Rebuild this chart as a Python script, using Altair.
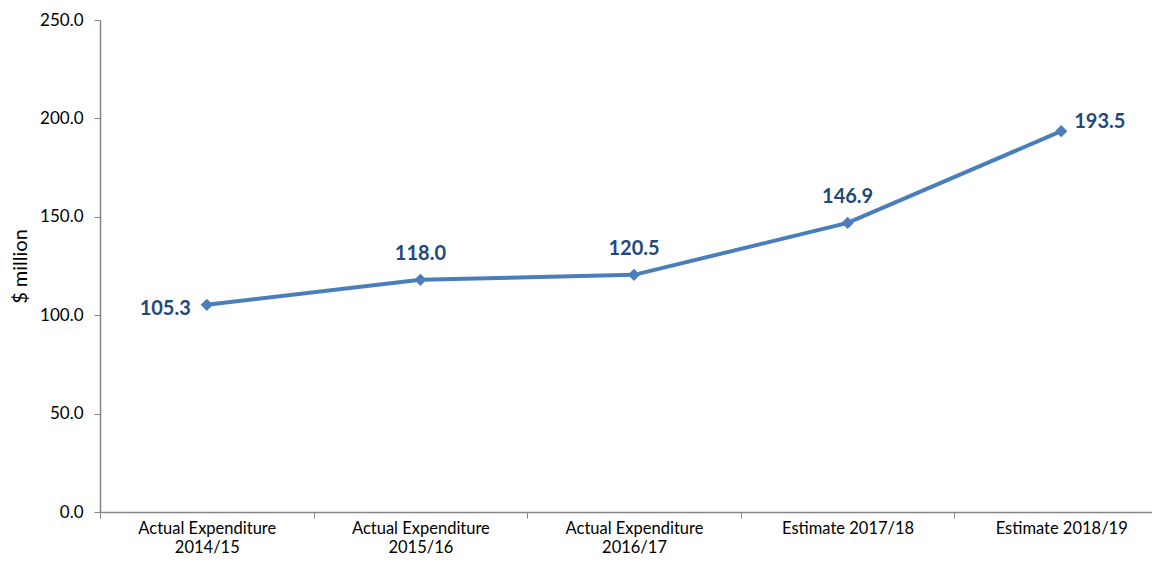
import json
import altair as alt
import pandas as pd

categories = [
    "Actual Expenditure 2014/15",
    "Actual Expenditure 2015/16",
    "Actual Expenditure 2016/17",
    "Estimate 2017/18",
    "Estimate 2018/19",
]
tick_label_lines = [
    ["Actual Expenditure", "2014/15"],
    ["Actual Expenditure", "2015/16"],
    ["Actual Expenditure", "2016/17"],
    ["Estimate 2017/18"],
    ["Estimate 2018/19"],
]
values = [105.3, 118.0, 120.5, 146.9, 193.5]
y_ticks = [0, 50, 100, 150, 200, 250]

df = pd.DataFrame({"cat": categories, "idx": list(range(len(categories))), "val": values})

FONT = "Lato"
LINE_COLOR = "#4a7ebb"
LABEL_COLOR = "#1f497d"
AXIS_COLOR = "#868686"

n = len(categories)
x_axis_values = []
for i in range(n):
    x_axis_values += [i - 0.5, i]

x = alt.X(
    "idx:Q",
    scale=alt.Scale(domain=[-0.5, n - 0.575], nice=False, zero=False),
    axis=alt.Axis(
        title=None,
        values=x_axis_values,
        labelAngle=0,
        grid=False,
        tickSize=6,
        tickColor=AXIS_COLOR,
        tickOpacity={"condition": {"test": "datum.value % 1 == 0", "value": 0}, "value": 1},
        domainColor=AXIS_COLOR,
        domainWidth=1.5,
        labelFont=FONT,
        labelFontSize=16.5,
        labelColor="#000000",
        labelPadding=2,
        labelLineHeight=19,
        labelOverlap=False,
        labelFlush=False,
        labelBound=False,
        labelExpr="datum.value % 1 != 0 ? '' : " + json.dumps(tick_label_lines) + "[datum.value]",
    ),
)
y = alt.Y(
    "val:Q",
    scale=alt.Scale(domain=[0, 250]),
    axis=alt.Axis(
        title="$ million",
        values=y_ticks,
        format=".1f",
        grid=False,
        tickSize=6,
        tickColor=AXIS_COLOR,
        domainColor=AXIS_COLOR,
        domainWidth=1.5,
        labelFont=FONT,
        labelFontSize=17,
        labelColor="#000000",
        labelPadding=11,
        titleFont=FONT,
        titleFontSize=20,
        titleFontWeight="normal",
        titleColor="#000000",
        titlePadding=9,
    ),
)

base = alt.Chart(df).encode(x=x, y=y)

line = base.mark_line(color=LINE_COLOR, strokeWidth=4)
points = base.mark_point(shape="diamond", filled=True, size=150, color=LINE_COLOR, opacity=1)

txt_style = dict(font=FONT, fontSize=20, fontWeight="bold", color=LABEL_COLOR)
lab_left = base.transform_filter(alt.datum.idx == 0).mark_text(
    align="right", baseline="middle", dx=-16, dy=4, **txt_style
).encode(text=alt.Text("val:Q", format=".1f"))
lab_above = base.transform_filter(
    (alt.datum.idx >= 1) & (alt.datum.idx <= 3)
).mark_text(align="center", baseline="middle", dy=-26, **txt_style).encode(
    text=alt.Text("val:Q", format=".1f")
)
lab_right = base.transform_filter(alt.datum.idx == 4).mark_text(
    align="left", baseline="middle", dx=13, dy=-9, **txt_style
).encode(text=alt.Text("val:Q", format=".1f"))

chart = (
    alt.layer(line, points, lab_left, lab_above, lab_right)
    .properties(
        width=1052,
        height=492,
        autosize=alt.AutoSizeParams(type="none"),
        padding={"left": 92, "top": 12, "right": 0, "bottom": 47},
        background="white",
    )
    .configure_view(stroke=None)
)

chart.save("out.html", embed_options={"renderer": "svg", "actions": False})
